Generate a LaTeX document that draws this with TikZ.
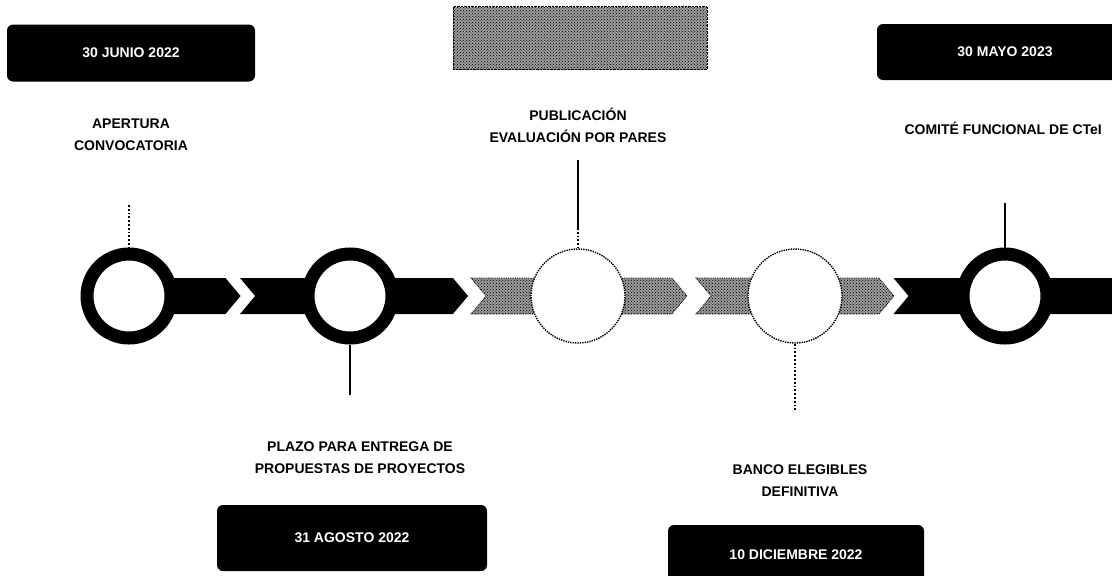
\documentclass[tikz,border=0pt]{standalone}
\usepackage{fontspec}
\setmainfont{Liberation Sans}
\usetikzlibrary{positioning,shapes.symbols,patterns}

\begin{document}
\begin{tikzpicture}[
      x=1pt, y=-1pt,
      font=\fontsize{14}{22}\selectfont\bfseries,
      stop/.style={circle, draw, line width=13pt, fill=white, minimum size=84pt, inner sep=0pt},
      fadedstop/.style={circle, draw, densely dotted, line width=1.4pt, fill=white, minimum size=94pt, inner sep=0pt},
      band/.style={signal, signal to=east, signal from=west, signal pointer angle=100, fill=black, minimum height=36pt, inner sep=0pt, outer sep=0pt},
      fadedband/.style={band, fill=none, preaction={fill=black!40}, pattern=crosshatch dots, draw, densely dotted, line width=0.8pt},
      datebox/.style={fill=black, text=white, rounded corners=6pt, minimum width=250pt, minimum height=57pt},
      fadedbox/.style={preaction={fill=black!40}, pattern=crosshatch dots, draw, densely dotted, minimum width=254pt, minimum height=63pt},
      milestone/.style={align=center},
      tick/.style={line width=1.3pt},
      dottick/.style={line width=1.8pt, dotted}
  ]
    \useasboundingbox (0,0) rectangle (1112,576);
    \clip (0,0) rectangle (1112,576);

    % bands behind the stops
    \node[band, signal from=nowhere, minimum width=104pt] (b1) at (181,296) {};
    \node[band, minimum width=228pt] (b2) at (354,296) {};
    \node[fadedband, minimum width=216pt] (b3) at (579,296) {};
    \node[fadedband, minimum width=198pt] (b4) at (795,296) {};
    \node[band, signal to=nowhere, minimum width=260pt] (b5) at (1031,296) {};

    % stops
    \node[stop] (s1) at (129,296) {};
    \node[stop] (s2) at (350,296) {};
    \node[fadedstop] (s3) at (578,296) {};
    \node[fadedstop] (s4) at (795,296) {};
    \node[stop] (s5) at (1005,296) {};

    % dates
    \node[datebox, minimum width=248pt] (d1) at (131,53) {30 JUNIO 2022};
    \node[fadedbox] (d3) at (580,38) {};
    \node[datebox, minimum width=256pt, minimum height=56pt] (d5) at (1005,52) {30 MAYO 2023};
    \node[datebox, minimum width=270pt, minimum height=66pt] (d2) at (352,538) {31 AGOSTO 2022};
    \node[datebox, minimum width=256pt, minimum height=60pt] (d4) at (796,555) {10 DICIEMBRE 2022};

    % texts
    \node[milestone] (m1) at (131,135) {APERTURA\\CONVOCATORIA};
    \node[milestone] (m3) at (578,125) {PUBLICACIÓN\\EVALUACIÓN POR PARES};
    \node[milestone, anchor=west] (m5) at (901,128) {COMITÉ FUNCIONAL DE CTeI};
    \node[milestone] (m2) at (360,458) {PLAZO PARA ENTREGA DE\\PROPUESTAS DE PROYECTOS};
    \node[milestone] (m4) at (800,481) {BANCO ELEGIBLES\\DEFINITIVA};

    % ticks
    \coordinate (t1) at (129,205);
    \coordinate (t2) at (350,395);
    \coordinate (t3) at (578,160);
    \coordinate (t3b) at (578,228);
    \coordinate (t4) at (795,410);
    \coordinate (t5) at (1005,203);
    \draw[dottick] (t1) -- (s1.north);
    \draw[tick] (s2.south) -- (t2);
    \draw[tick] (t3) -- (t3b);
    \draw[dottick] (t3b) -- (s3.north);
    \draw[dottick] (s4.south) -- (t4);
    \draw[tick] (t5) -- (s5.north);
  \end{tikzpicture}
\end{document}
